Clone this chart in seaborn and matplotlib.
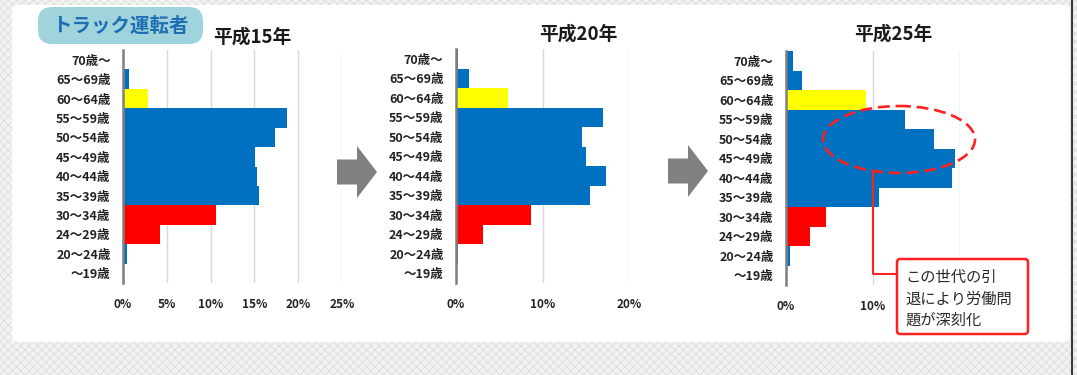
import matplotlib
matplotlib.use("Agg")
import matplotlib.pyplot as plt
import seaborn as sns
import pandas as pd
from matplotlib.patches import FancyBboxPatch, Ellipse, Polygon, Rectangle
from matplotlib.lines import Line2D
from matplotlib.transforms import Affine2D

# ---- data: share of truck drivers by age group (%) ----
ages = ["70歳〜", "65〜69歳", "60〜64歳", "55〜59歳", "50〜54歳", "45〜49歳",
        "40〜44歳", "35〜39歳", "30〜34歳", "24〜29歳", "20〜24歳", "〜19歳"]
share_h15 = [0.0, 0.7, 2.9, 18.7, 17.4, 15.1, 15.3, 15.5, 10.6, 4.2, 0.4, 0.0]
share_h20 = [0.2, 1.5, 6.0, 17.0, 14.6, 15.0, 17.3, 15.5, 8.7, 3.1, 0.2, 0.0]
share_h25 = [0.8, 1.8, 9.2, 13.7, 17.0, 19.4, 19.1, 10.7, 4.6, 2.8, 0.5, 0.0]
titles = ["平成15年", "平成20年", "平成25年"]
ticks_h15 = [0, 5, 10, 15, 20, 25]
ticks_h20 = [0, 10, 20]
ticks_h25 = [0, 10, 20]
labels_h15 = ["0%", "5%", "10%", "15%", "20%", "25%"]
labels_h20 = ["0%", "10%", "20%"]
labels_h25 = ["0%", "10%", ""]  # the 20% label sits under the note box
note_lines = ["この世代の引", "退により労働問", "題が深刻化"]
header = "トラック運転者"

BLUE, YELLOW, RED = "#0070C0", "#FFFF00", "#FF0000"
age_colors = [BLUE, BLUE, YELLOW, BLUE, BLUE, BLUE, BLUE, BLUE, RED, RED, BLUE, BLUE]

sns.set_theme(style="white")
plt.rcParams["font.family"] = ["Noto Sans CJK JP", "DejaVu Sans"]
plt.rcParams["hatch.linewidth"] = 0.5

W, H = 1077, 375
fig = plt.figure(figsize=(W / 100, H / 100), dpi=100)
# pixel coordinates with the origin at the top-left corner
pix = Affine2D().scale(0.01, -0.01).translate(0, H / 100) + fig.dpi_scale_trans

# page background with a fine texture and a white card
fig.patches.append(Rectangle((0, 0), W, H, transform=pix, facecolor="#F2F2F2",
                             edgecolor="#DADADA", hatch="xxxx", lw=0, zorder=-10))
fig.patches.append(FancyBboxPatch((12, 5), 1058, 337, boxstyle="round,pad=0,rounding_size=6",
                                  transform=pix, facecolor="white", edgecolor="none", zorder=-9))
fig.lines.append(Line2D([1072, 1072], [0, H], transform=pix, color="#3A3A3A", lw=1.5, zorder=-8))

palette = dict(zip(ages, age_colors))

panels = [
    (share_h15, titles[0], 123, 342, 50, 283, 25, ticks_h15, labels_h15, 252, 37),
    (share_h20, titles[1], 456, 629, 49, 283, 20, ticks_h20, labels_h20, 578, 34),
    (share_h25, titles[2], 786, 960, 51, 285, 20, ticks_h25, labels_h25, 893, 34),
]

for values, title, x0, x1, y0, y1, xmax, ticks, tlabels, tx, ty in panels:
    ax = fig.add_axes([x0 / W, 1 - y1 / H, (x1 - x0) / W, (y1 - y0) / H])
    df = pd.DataFrame({"age": ages, "share": values})
    sns.barplot(data=df, x="share", y="age", hue="age", palette=palette, order=ages,
                hue_order=ages, legend=False, width=1.0, saturation=1, linewidth=0,
                orient="h", ax=ax)
    ax.set_xlim(0, xmax)
    ax.set_ylim(len(ages) - 0.5, -0.5)
    ax.set_xticks(ticks)
    ax.set_xticklabels(tlabels, fontsize=8.5, fontweight="bold", color="#222222")
    ax.set_yticks(range(len(ages)))
    ax.set_yticklabels(ages, fontsize=9, fontweight="bold", color="#222222")
    ax.tick_params(axis="x", length=0, pad=11)
    ax.tick_params(axis="y", length=0, pad=9)
    ax.set_xlabel("")
    ax.set_ylabel("")
    ax.set_facecolor("none")
    ax.set_axisbelow(True)
    ax.grid(axis="x", color="#D9D9D9", lw=1)
    ax.grid(axis="y", visible=False)
    for side in ("top", "right", "bottom"):
        ax.spines[side].set_visible(False)
    ax.spines["left"].set_color("#7F7F7F")
    ax.spines["left"].set_linewidth(1.8)
    ax.spines["left"].set_zorder(5)
    fig.text(tx, ty, title, transform=pix, ha="center", va="center",
             fontsize=13.5, fontweight="bold", color="#1A1A1A")

# header badge
fig.patches.append(FancyBboxPatch((38, 7), 165, 37, boxstyle="round,pad=0,rounding_size=14",
                                  transform=pix, facecolor="#9FD4DD", edgecolor="none", zorder=2))
fig.text(120, 26, header, transform=pix, ha="center", va="center", fontsize=14,
         fontweight="bold", color="#1F6EB3", zorder=3)

# block arrows between panels
for ax0, cy in ((337, 172), (668, 171)):
    shaft, head = 20, 20
    pts = [(ax0, cy - 12.5), (ax0 + shaft, cy - 12.5), (ax0 + shaft, cy - 26),
           (ax0 + shaft + head, cy), (ax0 + shaft, cy + 26), (ax0 + shaft, cy + 12.5),
           (ax0, cy + 12.5)]
    fig.patches.append(Polygon(pts, closed=True, transform=pix, facecolor="#808080",
                               edgecolor="none", zorder=2))

# callout: dashed ellipse, leader line and note box
fig.patches.append(Ellipse((899, 139.5), 152, 67, transform=pix, facecolor="none",
                           edgecolor="#FF2020", lw=1.9, linestyle=(0, (4.5, 2.2)), zorder=6))
fig.lines.append(Line2D([873, 873, 897], [173, 274, 274], transform=pix,
                        color="#FF2020", lw=1.5, zorder=6))
fig.patches.append(FancyBboxPatch((897, 259), 131, 75, boxstyle="round,pad=0,rounding_size=3",
                                  transform=pix, facecolor="white", edgecolor="#FF2020",
                                  lw=1.8, zorder=6))
for line, ly in zip(note_lines, (277, 299, 320)):
    fig.text(905, ly, line, transform=pix, ha="left", va="center", fontsize=11,
             color="#2A2A2A", zorder=7)

fig.savefig("out.png", dpi=100)
